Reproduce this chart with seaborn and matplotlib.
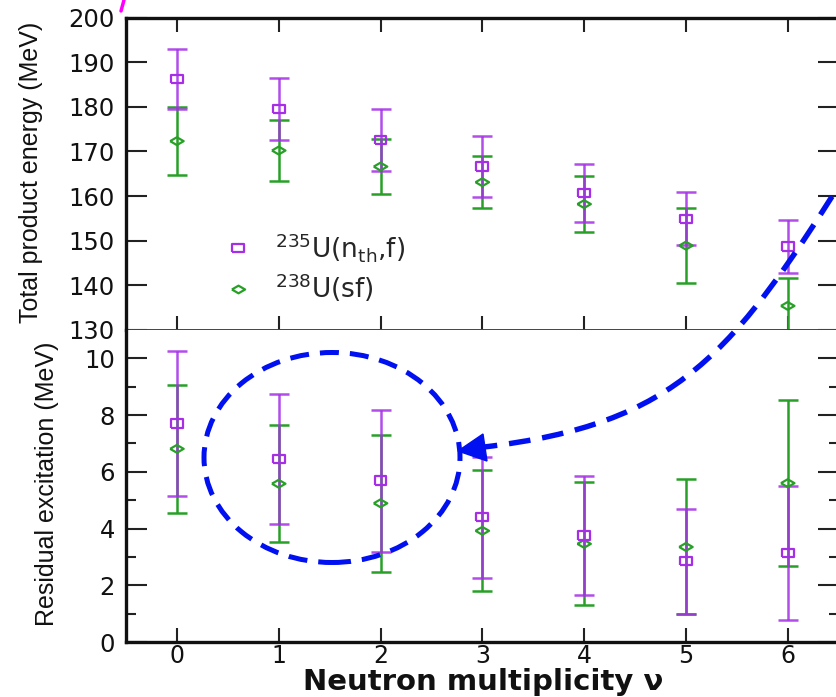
import matplotlib
matplotlib.use("Agg")
import matplotlib.pyplot as plt
import seaborn as sns
import numpy as np
from matplotlib.patches import Ellipse, PathPatch, Polygon
from matplotlib.path import Path
from matplotlib.lines import Line2D

# ---------------- data ----------------
nu = [0, 1, 2, 3, 4, 5, 6]
tke_235 = [186.2, 179.5, 172.6, 166.6, 160.7, 154.9, 148.7]
tke_235_err = [6.8, 6.9, 7.0, 6.8, 6.4, 5.9, 5.9]
tke_238 = [172.3, 170.2, 166.6, 163.1, 158.2, 148.9, 135.4]
tke_238_err = [7.6, 6.8, 6.2, 5.8, 6.2, 8.4, 6.3]
exc_235 = [7.70, 6.45, 5.69, 4.40, 3.76, 2.85, 3.13]
exc_235_err = [2.55, 2.28, 2.50, 2.14, 2.10, 1.85, 2.36]
exc_238 = [6.81, 5.58, 4.89, 3.92, 3.46, 3.35, 5.60]
exc_238_err = [2.26, 2.07, 2.42, 2.13, 2.17, 2.38, 2.93]
label_235 = r"$^{235}$U(n$_{\mathrm{th}}$,f)"
label_238 = r"$^{238}$U(sf)"
top_yticks = [130, 140, 150, 160, 170, 180, 190, 200]
bot_yticks = [0, 2, 4, 6, 8, 10]

PURPLE = "#a52ee6"
GREEN = "#28a028"
BLUE = "#0010f0"

sns.set_theme(style="ticks")
plt.rcParams["font.family"] = ["DejaVu Sans"]
plt.rcParams["mathtext.fontset"] = "dejavusans"

W, H = 836, 697
fig = plt.figure(figsize=(W / 100, H / 100), dpi=100)


def px(x, y):
    return (x / W, 1 - y / H)


left = 126 / W
width = 7 * 101.8 / W
ax1 = fig.add_axes([left, 1 - 330 / H, width, 312.5 / H])
ax2 = fig.add_axes([left, 1 - 642 / H, width, 312 / H])

sq = [(-1, -0.72), (1, -0.72), (1, 0.72), (-1, 0.72), (-1, -0.72)]
dm = [(-1, 0), (0, 0.58), (1, 0), (0, -0.58), (-1, 0)]


def draw(ax, y235, e235, y238, e238):
    ax.errorbar(nu, y238, yerr=e238, fmt="none", ecolor=GREEN, elinewidth=1.8,
                capsize=7, capthick=1.8, zorder=2)
    ax.errorbar(nu, y235, yerr=e235, fmt="none", ecolor=PURPLE, elinewidth=1.8,
                capsize=7, capthick=1.8, alpha=0.85, zorder=3)
    sns.scatterplot(x=nu, y=y238, marker=dm, s=95, color=GREEN, facecolor="none",
                    edgecolor=GREEN, linewidth=1.6, ax=ax, zorder=4)
    sns.scatterplot(x=nu, y=y235, marker=sq, s=72, color=PURPLE, facecolor="none",
                    edgecolor=PURPLE, linewidth=1.6, ax=ax, zorder=5)


draw(ax1, tke_235, tke_235_err, tke_238, tke_238_err)
draw(ax2, exc_235, exc_235_err, exc_238, exc_238_err)

for ax in (ax1, ax2):
    ax.set_xlim(-0.5, 6.5)
    ax.set_xticks(nu)
    ax.tick_params(axis="y", which="major", direction="in", length=15, width=1.5,
                   left=True, right=True, labelsize=17.5, pad=8, colors="#222222",
                   labelcolor="#111111")
    ax.tick_params(axis="x", which="major", direction="in", length=10, width=1.5,
                   labelsize=17, pad=1.5, colors="#222222", labelcolor="#111111")
    for s in ax.spines.values():
        s.set_color("#111111")
        s.set_linewidth(2.4)

ax1.set_ylim(130, 200)
ax1.set_yticks(top_yticks)
ax1.tick_params(axis="x", top=True, bottom=True, labelbottom=False)
ax1.spines["bottom"].set_linewidth(1.4)
ax1.spines["bottom"].set_color("#444444")

ax2.set_ylim(0, 11)
ax2.set_yticks(bot_yticks)
ax2.set_yticks([1, 3, 5, 7, 9], minor=True)
ax2.tick_params(axis="y", which="minor", direction="in", length=7, width=1.5,
                left=True, right=True, colors="#222222")
ax2.tick_params(axis="x", top=False, bottom=True)
ax2.spines["top"].set_visible(False)

# legend
h235 = Line2D([], [], linestyle="none", marker=sq, markersize=8.5, markerfacecolor="none",
              markeredgecolor=PURPLE, markeredgewidth=1.6)
h238 = Line2D([], [], linestyle="none", marker=dm, markersize=9.5, markerfacecolor="none",
              markeredgecolor=GREEN, markeredgewidth=1.6)
ax1.legend([h235, h238], [label_235, label_238], loc="center left",
           bbox_to_anchor=(0.1386, 0.2), frameon=False, fontsize=19,
           handlelength=1.0, handletextpad=0.9, labelspacing=0.3, borderpad=0,
           borderaxespad=0)

# axis labels
fig.text(31 / W, 1 - 172 / H, "Total product energy (MeV)", rotation=90,
         ha="center", va="center", fontsize=18, family="Liberation Sans",
         color="#111111")
fig.text(47 / W, 1 - 484 / H, "Residual excitation (MeV)", rotation=90,
         ha="center", va="center", fontsize=18, family="Liberation Sans",
         color="#111111")
fig.text(483 / W, 1 - 690 / H, "Neutron multiplicity ν", ha="center", va="baseline",
         fontsize=21, fontweight="bold", color="#111111")

# blue dashed annotation ellipse
ell = Ellipse(px(332, 457.5), 256 / W, 210 / H, transform=fig.transFigure,
              fill=False, edgecolor=BLUE, linewidth=3.6, linestyle=(0, (3.8, 2.2)),
              zorder=10)
fig.add_artist(ell)

# curved dashed arrow
P0, P1, P2, P3 = (850, 168), (733, 355), (678, 424), (484, 447)
verts = [px(*P0), px(*P1), px(*P2), px(*P3)]
curve = PathPatch(Path(verts, [Path.MOVETO, Path.CURVE4, Path.CURVE4, Path.CURVE4]),
                  transform=fig.transFigure, fill=False, edgecolor=BLUE,
                  linewidth=3.9, linestyle=(0, (4.0, 2.2)), zorder=10)
fig.add_artist(curve)
head = Polygon([px(458, 451), px(487, 461), px(483, 434)], closed=True,
               transform=fig.transFigure, facecolor=BLUE, edgecolor=BLUE, zorder=11)
fig.add_artist(head)

# small magenta stroke at top-left (cropped slide artefact)
fig.add_artist(Line2D([121 / W, 124 / W], [1 - 11 / H, 1.0], transform=fig.transFigure,
                      color="#ff00ff", linewidth=2.5))

fig.savefig("out.png", dpi=100)
